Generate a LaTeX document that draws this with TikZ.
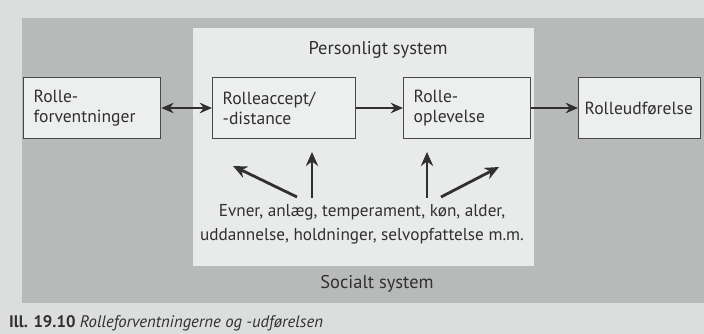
\documentclass[tikz,border=0pt]{standalone}
\usepackage{fontspec}
\setmainfont{PT Sans}
\usepackage{xcolor}
\usetikzlibrary{positioning, arrows.meta}

\definecolor{pagebg}{RGB}{220,221,221}
\definecolor{socialgray}{RGB}{184,185,185}
\definecolor{personwhite}{RGB}{233,234,234}
\definecolor{boxfill}{RGB}{237,238,238}
\definecolor{boxline}{RGB}{72,72,72}
\definecolor{ink}{RGB}{48,48,48}

\tikzset{
  rollebox/.style={draw=boxline, fill=boxfill, line width=0.8pt, align=left,
    anchor=west, minimum height=1.22cm, inner xsep=0.2cm, text=ink,
    font=\fontsize{10}{11.5}\selectfont},
  pil/.style={-{Stealth[length=7pt,width=6pt]}, line width=1.1pt, draw=ink},
  oppil/.style={-{Stealth[length=8pt,width=7pt]}, line width=1.6pt, draw=ink},
}

\begin{document}
\begin{tikzpicture}[x=0.02cm, y=-0.02cm]
    \useasboundingbox (0,0) rectangle (704,334);
    \clip (0,0) rectangle (704,334);

    % baggrund og systemer
    \fill[pagebg] (0,0) rectangle (704,334);
    \fill[socialgray] (22,18) rectangle (710,303);
    \fill[personwhite] (193,28) rectangle (534,266);

    \node[text=ink, font=\fontsize{10.5}{12}\selectfont] (personligt) at (378,50) {Personligt system};
    \node[text=ink, font=\fontsize{10.5}{12}\selectfont] (socialt) at (377,284) {Socialt system};

    % kasser
    \node[rollebox, text width=2.34cm] (forv) at (23,108) {Rolle-\\forventninger};
    \node[rollebox, text width=2.46cm] (accept) at (212,108) {Rolleaccept/\\-distance};
    \node[rollebox, text width=2.14cm] (oplev) at (403,108) {Rolle-\\oplevelse};
    \node[rollebox, text width=2.2cm, inner xsep=0.12cm] (udfoer) at (578,108) {Rolleudførelse};

    \draw[pil, {Stealth[length=7pt,width=6pt]}-{Stealth[length=7pt,width=6pt]}] (forv) -- (accept);
    \draw[pil] (accept) -- (oplev);
    \draw[pil] (oplev) -- (udfoer);

    % egenskaber
    \node[text=ink, align=center, font=\fontsize{9.8}{13.5}\selectfont] (evner) at (362,224)
        {Evner, anlæg, temperament, køn, alder,\\uddannelse, holdninger, selvopfattelse m.m.};

    \coordinate (v1) at (297,197);  \coordinate (v1s) at (233,166);
    \coordinate (v2) at (312,198);  \coordinate (v2s) at (312,152);
    \coordinate (h2) at (427,198);  \coordinate (h2s) at (427,152);
    \coordinate (h1) at (441,197);  \coordinate (h1s) at (499,167);
    \foreach \fra/\til in {v1/v1s, v2/v2s, h2/h2s, h1/h1s}
        \draw[oppil] (\fra) -- (\til);

    % figurtekst
    \node[anchor=base west, text=ink, font=\fontsize{9.5}{11}\selectfont] (figtekst) at (3,328)
        {\textbf{Ill. 19.10} \textit{Rolleforventningerne og -udførelsen}};
\end{tikzpicture}
\end{document}
